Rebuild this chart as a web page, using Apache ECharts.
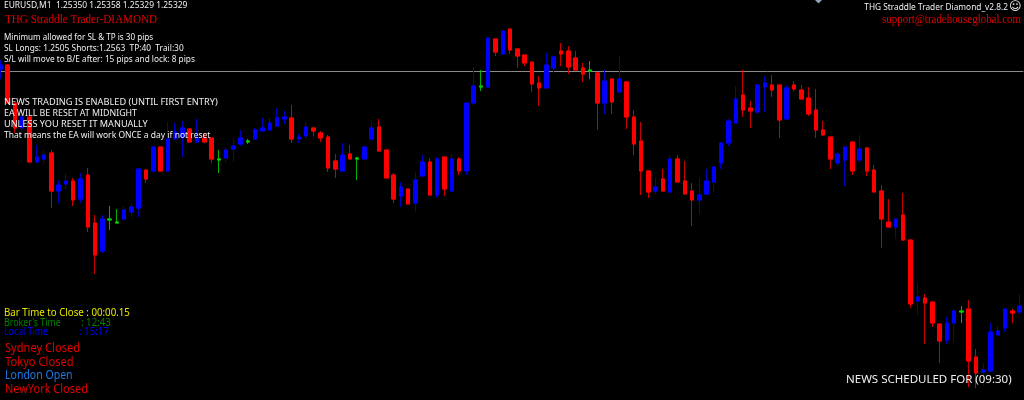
<!DOCTYPE html>
<html>
<head>
<meta charset="utf-8">
<style>html,body{margin:0;padding:0;background:#000;overflow:hidden}#c{width:1024px;height:400px}</style>
<script src="https://cdn.jsdelivr.net/npm/echarts@6/dist/echarts.min.js"></script>
</head>
<body>
<div id="c"></div>
<script>
// Prices are estimated from the picture, in points above 1.25000.
const opens = [565,569,531,506,517,472,475,481,443,450,453,435,459,411,383,414,411,415,422,426,464,463,487,463,495,497,505,492,496,496,474,476,485,490,492,495,503,504,508,515,516,495,498,506,501,497,473,463,480,475,475,495,507,484,459,438,445,431,458,472,439,477,443,475,463,531,547,547,595,580,605,585,579,572,551,546,566,583,583,576,566,563,561,531,555,542,552,517,493,463,443,455,442,475,453,443,434,440,452,471,491,511,539,526,522,547,549,549,515,549,544,536,524,504,497,471,474,492,474,486,464,443,412,407,419,394,333,336,332,310,294,311,322,325,277,262,263,299,306,323,322];
const closes = [569,531,506,517,472,477,479,443,449,453,434,455,407,379,415,415,412,424,427,465,455,487,463,495,502,506,492,496,492,475,475,484,488,496,493,504,506,511,516,517,495,497,507,503,496,466,465,479,475,476,487,506,483,456,435,447,430,454,472,439,475,445,475,463,531,548,548,596,582,603,584,578,571,550,546,569,577,580,567,564,560,564,531,553,532,555,517,490,463,442,447,443,475,452,440,434,439,453,467,491,513,535,524,523,549,551,544,514,546,545,535,520,504,499,475,480,487,463,485,463,442,415,407,415,394,330,337,331,311,293,311,323,323,273,261,264,302,303,325,321,328];
const lows = [555,531,501,499,472,472,471,426,431,445,428,431,402,360,381,404,411,414,417,417,451,463,463,463,495,477,492,491,492,471,461,471,472,488,490,495,503,504,507,510,491,491,495,498,492,462,456,463,475,454,475,495,483,456,431,427,430,422,458,439,436,438,443,459,459,528,543,547,578,580,580,566,568,542,528,546,561,568,560,564,552,555,504,520,520,542,505,479,439,436,440,443,442,452,440,408,420,439,442,465,488,511,517,506,520,522,537,496,515,543,535,518,496,499,465,468,448,459,471,458,442,386,407,395,393,326,319,290,307,271,290,291,311,247,246,249,263,299,302,311,319];
const highs = [574,569,531,521,517,489,484,484,454,461,456,461,466,419,419,428,425,428,431,465,464,487,487,512,511,513,505,515,501,496,484,486,496,504,495,506,516,516,526,523,529,500,512,507,503,499,480,491,489,477,487,512,515,484,461,452,445,462,479,476,477,477,480,477,531,567,564,597,595,603,605,585,579,572,558,581,577,591,588,583,571,573,561,564,555,578,553,524,512,464,456,465,479,479,473,451,456,465,467,492,515,548,564,533,549,558,559,549,549,553,549,547,545,513,497,482,487,492,499,487,469,449,435,415,441,394,351,340,332,310,317,323,328,334,285,271,311,308,325,325,340];
const greenBars = [15,16,30,34,49,66,81,132];
const entryLevel = 563;
const minutes = opens.map((_, i) => String(i + 1));

const headerText = 'EURUSD,M1  1.25350 1.25358 1.25329 1.25329';
const eaTitle = 'THG Straddle Trader-DIAMOND';
const settingsLines = ['Minimum allowed for SL & TP is 30 pips','SL Longs: 1.2505 Shorts:1.2563  TP:40  Trail:30','S/L will move to B/E after: 15 pips and lock: 8 pips'];
const newsLines = ['NEWS TRADING IS ENABLED (UNTIL FIRST ENTRY)','EA WILL BE RESET AT MIDNIGHT','UNLESS YOU RESET IT MANUALLY','That means the EA will work ONCE a day if not reset'];
const barCloseText = 'Bar Time to Close : 00:00.15';
const clockLabels = ["Broker's Time",'Local Time'];
const clockValues = [': 12:43',': 15:17'];
const sessionLines = ['Sydney Closed','Tokyo Closed','London Open','NewYork Closed'];
const versionText = 'THG Straddle Trader Diamond_v2.8.2';
const smiley = '\u263A';
const supportText = 'support@tradehouseglobal.com';
const scheduleText = 'NEWS SCHEDULED FOR (09:30)';

const isGreen = new Set(greenBars);
const greenStyle = {color:'#00d000',color0:'#00d000',borderColor:'#00b000',borderColor0:'#00b000'};
const greenBody = {color:'#00d000',color0:'#00d000',borderColor:'#00d000',borderColor0:'#00d000'};
const fullData = opens.map((o,i)=>{
  const item={value:[o,closes[i],lows[i],highs[i]]};
  if(isGreen.has(i)) item.itemStyle=greenStyle;
  return item;
});
const bodyData = opens.map((o,i)=>{
  const c=closes[i];
  const item={value:[o,c,Math.min(o,c),Math.max(o,c)]};
  if(isGreen.has(i)) item.itemStyle=greenBody;
  return item;
});

const SANS = '"Noto Sans"';
const SERIF = '"Liberation Serif"';
function txt(text,x,y,fontSize,fontFamily,fill,sx,align){
  return {type:'text',silent:true,z:100,x:x,y:y,scaleX:sx||1,style:{text:text,fontSize:fontSize,fontFamily:fontFamily,fill:fill,align:align||'left',verticalAlign:'middle'}};
}
const white='#f0f0f0';
const graphics=[
  txt(headerText,4,5.5,9,SANS,white,.938),
  txt(eaTitle,5,20,12,SERIF,'#e00000',.927),
  txt(settingsLines[0],4,37,9,SANS,white,.90),
  txt(settingsLines[1],4,48,9,SANS,white,.928),
  txt(settingsLines[2],4,59,9,SANS,white,.918),
  txt(newsLines[0],4,102.5,9,SANS,white,1.024),
  txt(newsLines[1],4,113.5,9,SANS,white,.98),
  txt(newsLines[2],4,124.5,9,SANS,white,1.014),
  txt(newsLines[3],4,135.5,9,SANS,white,.945),
  txt(barCloseText,4,313.5,10,SANS,'#e6e600',.97),
  txt(clockLabels[0],4,323,10,SANS,'#008000',.88),
  txt(clockValues[0],81,323,10,SANS,'#008000',.97),
  txt(clockLabels[1],4,332,10,SANS,'#0000ff',.88),
  txt(clockValues[1],79,332,10,SANS,'#0000ff',.97),
  txt(sessionLines[0],5,348.5,12,SANS,'#e00000',.926),
  txt(sessionLines[1],5,362.5,12,SANS,'#e00000',.93),
  txt(sessionLines[2],5,376,12,SANS,'#1e78e6',.877),
  txt(sessionLines[3],5,389.5,12,SANS,'#e00000',.912),
  txt(versionText,1008,7,9,SANS,white,.923,'right'),
  txt(smiley,1009,7,12,'"DejaVu Sans"',white),
  txt(supportText,1021,20,12,SERIF,'#e00000',.91,'right'),
  txt(scheduleText,846,380,11.5,SANS,white),
  {type:'polygon',silent:true,z:100,shape:{points:[[815,0],[822,0],[818.5,3.5]]},style:{fill:'#8fa3b8'}}
];

const chart=echarts.init(document.getElementById('c'),null,{renderer:'canvas',width:1024,height:400});
chart.setOption({
  animation:false,
  backgroundColor:'#000',
  grid:{left:-3.25,top:0,width:1026.6,height:400,containLabel:false,outerBoundsMode:'none'},
  tooltip:{show:false},
  legend:{show:false},
  xAxis:{type:'category',data:minutes,show:false,boundaryGap:true},
  yAxis:{type:'value',min:234,max:634,show:false,scale:true,splitLine:{show:false}},
  graphic:graphics,
  series:[
    {type:'candlestick',name:'wicks',data:fullData,barWidth:4,silent:true,z:2,clip:false,
     itemStyle:{color:'#0000ff',color0:'#ff0000',borderColor:'#0000c4',borderColor0:'#c80000',borderWidth:1},
     markLine:{silent:true,symbol:'none',label:{show:false},animation:false,z:1,
       lineStyle:{color:'#8a8a8a',width:1,type:'solid'},data:[{yAxis:entryLevel}]}},
    {type:'candlestick',name:'bodies',data:bodyData,barWidth:4,silent:true,z:3,clip:false,
     itemStyle:{color:'#0000ff',color0:'#ff0000',borderColor:'#0000ff',borderColor0:'#ff0000',borderWidth:1}}
  ]
});
</script>
</body>
</html>
